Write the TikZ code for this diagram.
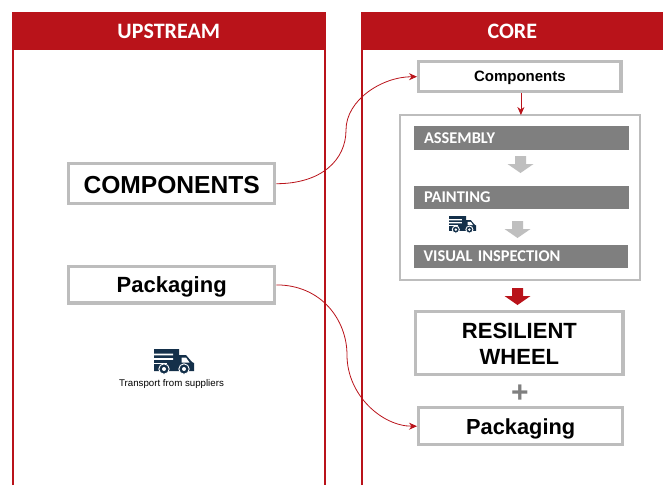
\documentclass[tikz,border=0pt]{standalone}
\usepackage{fontspec}
\setmainfont{Liberation Sans}
\newfontfamily\calibri{Carlito}
\usetikzlibrary{arrows.meta}
\definecolor{wred}{HTML}{B9131A}
\definecolor{wbox}{HTML}{BDBDBD}
\definecolor{wbar}{HTML}{7F7F7F}
\definecolor{warrow}{HTML}{BFBFBF}
\definecolor{wtruck}{HTML}{14304A}
\newcommand{\lowertext}[2]{\raisebox{-#1}[\height][\depth]{#2}}
\tikzset{
  x=1pt,y=-1pt,
  header/.style={fill=wred,draw=none,text=white,font=\calibri\bfseries\fontsize{22}{24}\selectfont,minimum height=38pt,inner sep=0pt,outer sep=0pt,anchor=north west},
  panel/.style={draw=wred,line width=1.6pt},
  itembox/.style={draw=wbox,line width=3.4pt,fill=white,align=center,inner sep=0pt,font=\bfseries,anchor=north west},
  stagebar/.style={fill=wbar,text=white,font=\calibri\bfseries\fontsize{16.4}{18}\selectfont,minimum width=215pt,minimum height=23.5pt,inner sep=0pt,outer sep=0pt,anchor=north west,text width=195pt,align=left},
  link/.style={draw=wred,line width=0.8pt,-{Stealth[length=8pt,width=7pt]}},
  blockarrow/.pic={\fill[pic actions] (-5.5,0) -- (5.5,0) -- (5.5,8) -- (13,8) -- (0,17) -- (-13,8) -- (-5.5,8) -- cycle;},
  truck/.pic={
    \fill[wtruck] (0,0) -- (25,0) -- (25,6) -- (32,6) -- (38,13) -- (40,14) -- (40,22) -- (0,22) -- cycle;
    \fill[white] (0,4.5) rectangle (19,6.3) (0,9) rectangle (19,10.8) (27.5,8.5) -- (32,8.5) -- (35.5,13.5) -- (27.5,13.5) -- cycle;
    \fill[white] (0,13.5) rectangle (13,15.3);
    \fill[wtruck,draw=white,line width=0.9pt] (10,20) circle (5.2) (30,20) circle (5.2);
    \fill[white] (10,20) circle (2) (30,20) circle (2);
  }
}
\begin{document}
\begin{tikzpicture}
\useasboundingbox (0,0) rectangle (663,485);
% panels
\draw[panel] (13,485) -- (13,13) -- (324.7,13) -- (324.7,485);
\draw[panel] (362.2,485) -- (362.2,13) -- (663,13);
\node[header,minimum width=313.5pt] (upstream) at (12,12) {UPSTREAM};
\node[header,minimum width=301.5pt] (core) at (361.5,12) {CORE};
% left column
\node[itembox,minimum width=206pt,minimum height=40pt,font=\bfseries\fontsize{24.6}{26}\selectfont] (compL) at (67,162) {\lowertext{1pt}{COMPONENTS}};
\node[itembox,minimum width=206pt,minimum height=36.4pt,font=\bfseries\fontsize{22}{24}\selectfont] (packL) at (67,265) {\lowertext{2pt}{Packaging}};
\pic at (154,349) {truck};
\node[font=\fontsize{9.7}{11}\selectfont,inner sep=0pt] (transport) at (171.5,383.5) {Transport from suppliers};
% right column
\node[itembox,minimum width=202.4pt,minimum height=30pt,font=\bfseries\fontsize{15}{17}\selectfont] (compR) at (417,60) {\lowertext{1.5pt}{Components}};
\node[draw=wbox,line width=2pt,fill=white,minimum width=239.7pt,minimum height=164.7pt,inner sep=0pt,outer sep=0pt,anchor=north west] (process) at (400,115) {};
\node[stagebar] (assembly) at (414,126) {ASSEMBLY};
\node[stagebar] (painting) at (414,185.5) {PAINTING};
\node[stagebar,minimum width=214pt] (inspection) at (414,244.5) {VISUAL INSPECTION};
\pic[fill=warrow] at (520.5,156) {blockarrow};
\pic[fill=warrow] at (517.5,221) {blockarrow};
\pic[scale=0.68] at (449,216) {truck};
\pic[fill=wred] at (517.5,288) {blockarrow};
\node[itembox,minimum width=207.4pt,minimum height=63pt,font=\bfseries\fontsize{22}{26}\selectfont] (wheel) at (414,310) {\lowertext{1pt}{RESILIENT}\\\lowertext{1pt}{WHEEL}};
\node[font=\bfseries\fontsize{30}{30}\selectfont,text=wbar,inner sep=0pt] (plus) at (520,394) {+};
\node[itembox,minimum width=204pt,minimum height=37pt,font=\bfseries\fontsize{21.8}{24}\selectfont] (packR) at (417,406) {\lowertext{3pt}{Packaging}};
% connectors
\coordinate (midA) at (346,130);
\coordinate (midB) at (347,355);
\draw[link] (compL.east) .. controls +(45,0) and +(0,30) .. (midA) .. controls +(0,-30) and +(-35,0) .. (compR.west);
\draw[link] (packL.east) .. controls +(45,0) and +(0,-35) .. (midB) .. controls +(0,40) and +(-35,0) .. (packR.west);
\draw[link] (compR.south) ++(1,0) coordinate (linkstart) -- (linkstart |- process.north);
\end{tikzpicture}
\end{document}
